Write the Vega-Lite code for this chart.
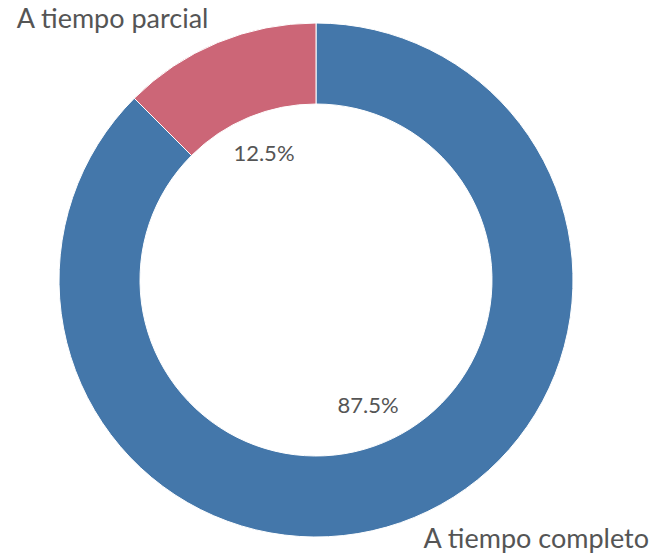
{
  "$schema": "https://vega.github.io/schema/vega-lite/v6.json",
  "width": 632,
  "height": 560,
  "padding": {"left": 0, "top": 0, "right": 25, "bottom": 0},
  "autosize": {"type": "none"},
  "background": "white",
  "view": {"stroke": null},
  "data": {
    "values": [
      {"category": "A tiempo completo", "share": 0.875},
      {"category": "A tiempo parcial", "share": 0.125}
    ]
  },
  "encoding": {
    "theta": {"field": "share", "type": "quantitative", "stack": true},
    "order": {"field": "category", "type": "ordinal", "sort": "ascending"},
    "color": {
      "field": "category",
      "type": "nominal",
      "scale": {"domain": ["A tiempo completo", "A tiempo parcial"], "range": ["#4477AA", "#CC6677"]},
      "legend": null
    }
  },
  "layer": [
    {
      "mark": {"type": "arc", "outerRadius": 257, "innerRadius": 176, "stroke": "#ffffff", "strokeWidth": 1}
    },
    {
      "mark": {"type": "text", "radius": 136, "fontSize": 22, "font": "Lato", "align": "center", "baseline": "middle"},
      "encoding": {
        "text": {"field": "share", "type": "quantitative", "format": ".1%"},
        "color": {"value": "#555555"}
      }
    },
    {
      "mark": {"type": "text", "radius": 281, "fontSize": 27, "font": "Lato", "align": "right", "baseline": "middle"},
      "encoding": {
        "text": {"condition": {"test": "datum.category == 'A tiempo parcial'", "field": "category"}, "value": ""},
        "color": {"value": "#555555"}
      }
    },
    {
      "mark": {"type": "text", "radius": 281, "fontSize": 27, "font": "Lato", "align": "left", "baseline": "middle"},
      "encoding": {
        "text": {"condition": {"test": "datum.category == 'A tiempo completo'", "field": "category"}, "value": ""},
        "color": {"value": "#555555"}
      }
    }
  ]
}
